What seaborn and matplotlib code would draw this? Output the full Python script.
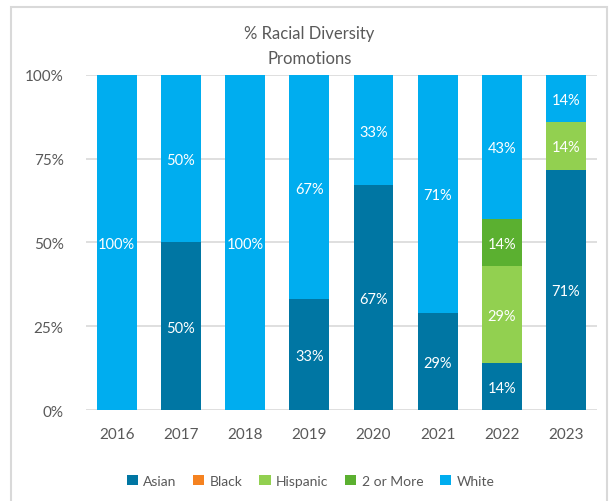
import matplotlib
matplotlib.use("Agg")
import matplotlib.pyplot as plt
from matplotlib.patches import Rectangle, Patch
from matplotlib.ticker import FuncFormatter
import numpy as np
import pandas as pd
import seaborn as sns

# Promotion share by race, in percent
years = ["2016", "2017", "2018", "2019", "2020", "2021", "2022", "2023"]
asian = [0, 50, 0, 33, 67, 29, 14, 71]
black = [0, 0, 0, 0, 0, 0, 0, 0]
hispanic = [0, 0, 0, 0, 0, 0, 29, 14]
two_or_more = [0, 0, 0, 0, 0, 0, 14, 0]
white = [100, 50, 100, 67, 33, 71, 43, 14]

groups = ["Asian", "Black", "Hispanic", "2 or More", "White"]
colors = {
    "Asian": "#0076A3",
    "Black": "#F58220",
    "Hispanic": "#92D050",
    "2 or More": "#5BB030",
    "White": "#00ADEF",
}

df = pd.DataFrame({"Year": years, "Asian": asian, "Black": black,
                   "Hispanic": hispanic, "2 or More": two_or_more,
                   "White": white})
totals = df[groups].sum(axis=1).to_numpy(dtype=float)

sns.set_theme(style="white")
plt.rcParams["font.family"] = ["Lato", "DejaVu Sans"]

fig = plt.figure(figsize=(6.09, 5.02), dpi=100)
ax = fig.add_axes([0.141, 0.181, 0.839, 0.668])

bottom = np.zeros(len(years))
for g in groups:
    share = df[g].to_numpy(dtype=float) / totals * 100
    sns.barplot(x=df["Year"], y=share, order=years, color=colors[g],
                bottom=bottom, width=0.62, linewidth=0, saturation=1,
                ax=ax, zorder=3)
    for i, (v, b, s) in enumerate(zip(df[g], bottom, share)):
        if v > 0:
            ax.text(i, b + s / 2, f"{v}%", ha="center", va="center_baseline",
                    color="white", fontsize=10.5, zorder=4)
    bottom = bottom + share

ax.set_xlim(-0.48, len(years) - 0.52)
ax.set_ylim(0, 100)
ax.set_yticks([0, 25, 50, 75, 100])
ax.yaxis.set_major_formatter(FuncFormatter(lambda v, p: f"{v:.0f}%"))
ax.grid(axis="y", color="#d9d9d9", linewidth=1.2, zorder=0)
ax.set_axisbelow(True)
for s in ax.spines.values():
    s.set_visible(False)
ax.tick_params(axis="y", length=0, pad=16, labelsize=11, labelcolor="#595959")
ax.tick_params(axis="x", length=0, pad=12, labelsize=11, labelcolor="#595959")
ax.set_xlabel("")
ax.set_ylabel("")

fig.text(0.508, 0.907, "% Racial Diversity\nPromotions", ha="center",
         va="center", fontsize=12, color="#595959", linespacing=1.65)

handles = [Patch(facecolor=colors[g], edgecolor="none", label=g) for g in groups]
fig.legend(handles=handles, loc="center", bbox_to_anchor=(0.51, 0.04),
           ncol=5, frameon=False, fontsize=10, labelcolor="#595959",
           handlelength=0.8, handleheight=0.8, handletextpad=0.4,
           columnspacing=1.2)

fig.patches.append(Rectangle((11 / 609, -0.05), 596 / 609, 1.05 - 8 / 502,
                             transform=fig.transFigure, fill=False,
                             edgecolor="#d9d9d9", linewidth=1.5))

fig.savefig("out.png", dpi=100)
